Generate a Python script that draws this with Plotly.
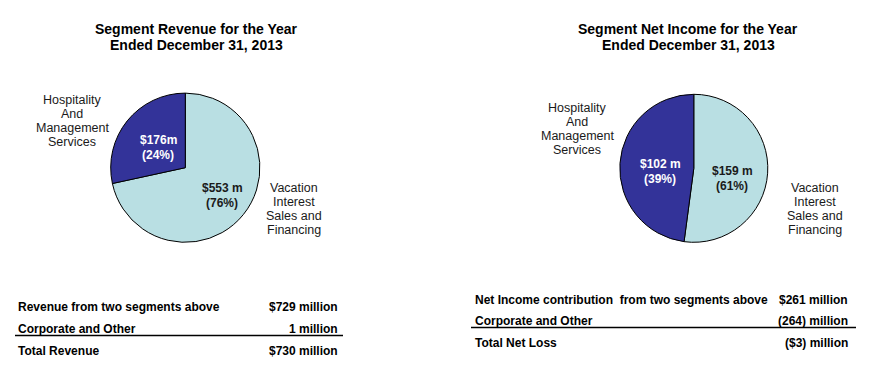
import plotly.graph_objects as go

W, H = 871, 381

# ---- data ----
segment_hosp = ["Hospitality", "And", "Management", "Services"]
segment_vac = ["Vacation", "Interest", "Sales and", "Financing"]
slice_names = ["Vacation Interest Sales and Financing", "Hospitality And Management Services"]
revenue_labels = {"hosp": ["$176m", "(24%)"], "vac": ["$553 m", "(76%)"]}
revenue_slice_share = [71.6, 28.4]      # [vacation, hospitality] shares as drawn in the picture
income_labels = {"hosp": ["$102 m", "(39%)"], "vac": ["$159 m", "(61%)"]}
income_slice_share = [52.1, 47.9]       # [vacation, hospitality] shares as drawn in the picture

rev_table_left = ["Revenue from two segments above", "Corporate and Other", "Total Revenue"]
rev_table_right = ["$729 million", "1 million", "$730 million"]
inc_table_left = ["Net Income contribution&nbsp;&nbsp;from two segments above", "Corporate and Other", "Total Net Loss"]
inc_table_right = ["$261 million", "(264) million", "($3) million"]

titles = [["Segment Revenue for the Year", "Ended December 31, 2013"],
          ["Segment Net Income for the Year", "Ended December 31, 2013"]]

colors = ["#b9dfe3", "#333399"]
FONT = "Liberation Sans, Arial, sans-serif"


def px(x):
    return x / W


def py(y):
    return 1 - y / H


fig = go.Figure()

pies = [
    dict(vals=revenue_slice_share, cx=185.3, cy=167.7, r=74.6),
    dict(vals=income_slice_share, cx=693.8, cy=168.3, r=74.0),
]
for p in pies:
    fig.add_trace(go.Pie(
        labels=slice_names,
        values=p["vals"],
        sort=False,
        direction="clockwise",
        rotation=0,
        marker=dict(colors=colors, line=dict(color="black", width=1)),
        textinfo="none",
        hoverinfo="skip",
        showlegend=False,
        domain=dict(x=[px(p["cx"] - p["r"]), px(p["cx"] + p["r"])],
                    y=[py(p["cy"] + p["r"]), py(p["cy"] - p["r"])]),
    ))

ann = []


def add_text(x, y, text, size=12, bold=False, color="black", xanchor="center"):
    if bold:
        text = "<b>" + text + "</b>"
    ann.append(dict(x=px(x), y=py(y), xref="paper", yref="paper", text=text,
                    showarrow=False, xanchor=xanchor, yanchor="middle",
                    borderpad=0, font=dict(family=FONT, size=size, color=color)))


def add_lines(x, y_first, lines, spacing, **kw):
    for i, line in enumerate(lines):
        add_text(x, y_first + i * spacing, line, **kw)


# titles
add_lines(196, 29, titles[0], 16, size=14, bold=True)
add_lines(688, 29, titles[1], 16, size=14, bold=True)

# category labels
add_lines(72, 100, segment_hosp, 14, size=12.5, color="#1a1a1a")
add_lines(294, 188, segment_vac, 14, size=12.5, color="#1a1a1a")
add_lines(577, 108, segment_hosp, 14, size=12.5, color="#1a1a1a")
add_lines(815, 188, segment_vac, 14, size=12.5, color="#1a1a1a")

# slice labels
add_lines(158, 140, revenue_labels["hosp"], 15, size=12, bold=True, color="white")
add_lines(222, 187.5, revenue_labels["vac"], 15, size=12, bold=True, color="#1a1a1a")
add_lines(660, 164, income_labels["hosp"], 14.5, size=12, bold=True, color="white")
add_lines(732, 171, income_labels["vac"], 14.5, size=12, bold=True, color="#1a1a1a")

# tables
rev_rows = [307.3, 329, 350.7]
for y, l, r in zip(rev_rows, rev_table_left, rev_table_right):
    add_text(17, y, l, size=12, bold=True, xanchor="left")
    add_text(339, y, r, size=12, bold=True, xanchor="right")
inc_rows = [300, 321, 342.7]
for y, l, r in zip(inc_rows, inc_table_left, inc_table_right):
    add_text(474, y, l, size=12, bold=True, xanchor="left")
    add_text(849, y, r, size=12, bold=True, xanchor="right")

shapes = [
    dict(type="line", xref="paper", yref="paper", x0=px(15), x1=px(343), y0=py(335.5), y1=py(335.5),
         line=dict(color="black", width=1.5)),
    dict(type="line", xref="paper", yref="paper", x0=px(471), x1=px(856), y0=py(327.5), y1=py(327.5),
         line=dict(color="black", width=1.5)),
]

fig.update_layout(
    width=W, height=H,
    margin=dict(l=0, r=0, t=0, b=0),
    paper_bgcolor="white", plot_bgcolor="white",
    annotations=ann, shapes=shapes,
    font=dict(family=FONT),
)

fig.write_html("out.html", config={"displayModeBar": False},
               post_script="document.body.style.margin='0px';document.body.style.overflow='hidden';")
